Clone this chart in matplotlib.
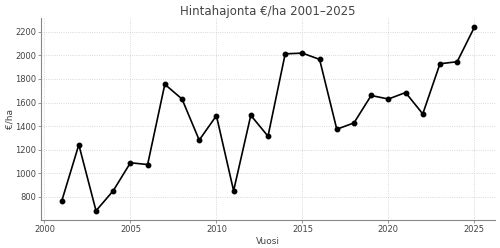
import matplotlib
matplotlib.use("Agg")
import matplotlib.pyplot as plt

# Vuodet ja hintahajonta (€/ha)
years = list(range(2001, 2026))
values = [763, 1243, 683, 853, 1090, 1075, 1755, 1630, 1282, 1489,
          853, 1492, 1315, 2013, 2019, 1966, 1374, 1428, 1660, 1630,
          1685, 1504, 1929, 1946, 2238]

text_color = "#444444"

fig = plt.figure(figsize=(5.0, 2.48), dpi=100)
ax = fig.add_axes([0.082, 0.113, 0.908, 0.814])

# Line with dot markers
ax.plot(years, values, color="black", linewidth=1.2, marker="o", markersize=3.2)

# Title and axis labels
ax.set_title("Hintahajonta €/ha 2001–2025", fontsize=8.5, color=text_color, pad=2)
ax.set_xlabel("Vuosi", fontsize=6.5, color=text_color, labelpad=2)
ax.set_ylabel("€/ha", fontsize=6.5, color=text_color, labelpad=0.5)

# Axes styling
ax.set_xticks([2000, 2005, 2010, 2015, 2020, 2025])
ax.set_yticks(range(800, 2201, 200))
ax.tick_params(length=2, width=0.6, color="#888888", labelsize=6,
               labelcolor=text_color, pad=1.5)
ax.grid(True, linestyle=":", linewidth=0.6, color="#cccccc")
ax.spines["top"].set_visible(False)
ax.spines["right"].set_visible(False)
ax.spines["left"].set_color("#888888")
ax.spines["bottom"].set_color("#888888")

fig.savefig("out.png", dpi=100)
